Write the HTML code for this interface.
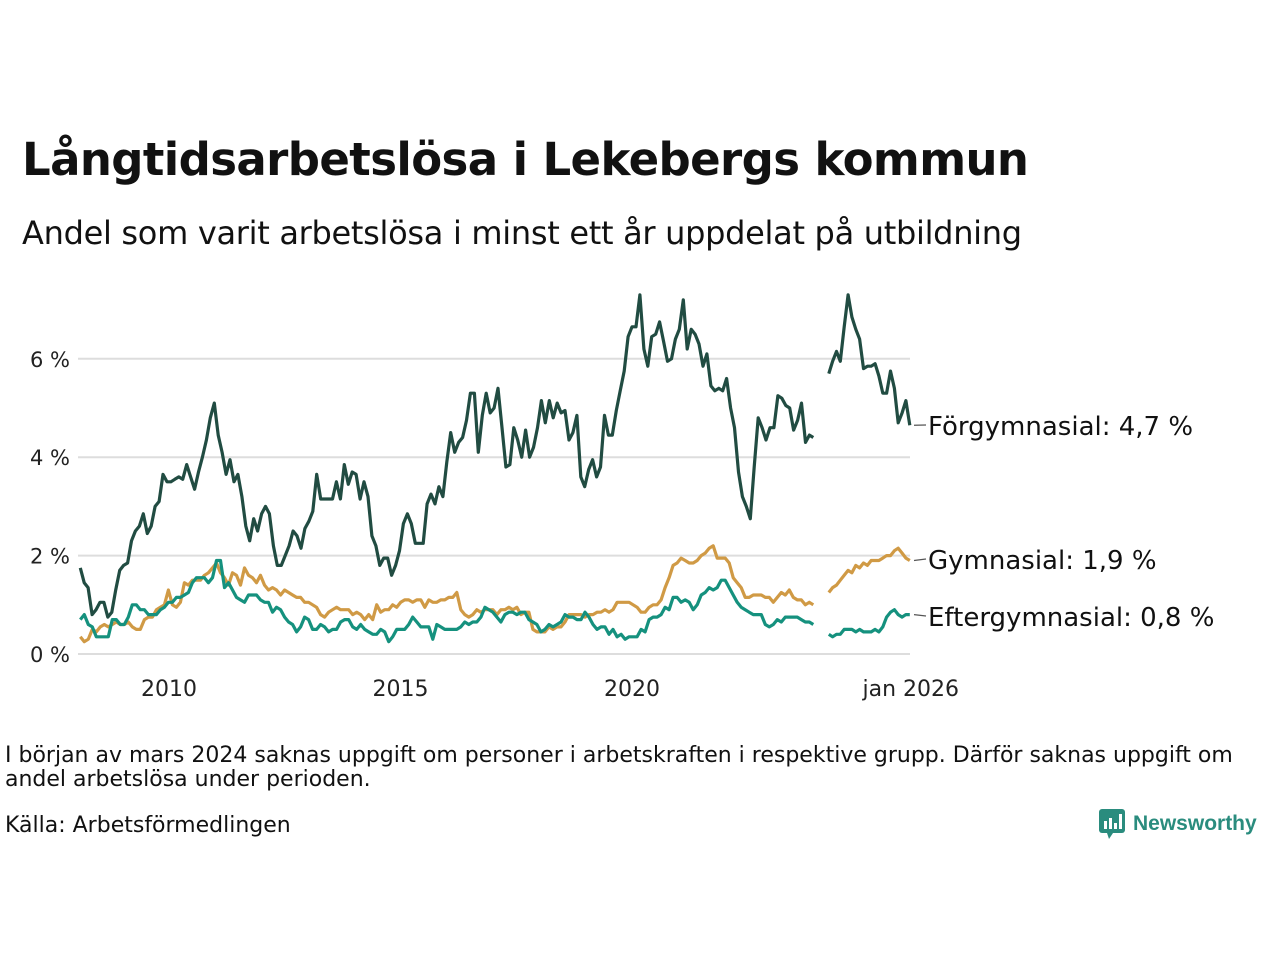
<!DOCTYPE html>
<html><head><meta charset="utf-8">
<style>
body{margin:0;background:#fff;font-family:"Liberation Sans","DejaVu Sans",sans-serif;}
#wrap{position:relative;width:1280px;height:960px;overflow:hidden}
.t{position:absolute;color:#111;white-space:nowrap}
</style></head><body>
<div id="wrap">
<div class="t" style="left:22px;top:133px;font-size:45px;font-weight:bold;font-family:'DejaVu Sans',sans-serif;letter-spacing:-0.6px">Långtidsarbetslösa i Lekebergs kommun</div>
<div class="t" style="left:22px;top:214px;font-size:32px;font-family:'DejaVu Sans',sans-serif;letter-spacing:-0.3px">Andel som varit arbetslösa i minst ett år uppdelat på utbildning</div>
<svg id="chart" width="1280" height="720" style="position:absolute;left:0;top:0" font-family="DejaVu Sans, sans-serif"></svg>
<div class="t" style="left:5px;top:744px;font-size:22px;line-height:24px;font-family:'DejaVu Sans',sans-serif;white-space:normal;width:1250px;letter-spacing:0">I början av mars 2024 saknas uppgift om personer i arbetskraften i respektive grupp. Därför saknas uppgift om andel arbetslösa under perioden.</div>
<div class="t" style="left:5px;top:813px;font-size:22px;font-family:'DejaVu Sans',sans-serif">Källa: Arbetsförmedlingen</div>
<div style="position:absolute;left:1099px;top:809px;display:flex;align-items:center">
<svg width="26" height="30"><rect x="0" y="0" width="26" height="24" rx="3" fill="#2a8c7e"/><polygon points="8,24 14,24 10,30" fill="#2a8c7e"/><rect x="5" y="12" width="3" height="8" fill="#fff"/><rect x="10" y="9" width="3" height="11" fill="#fff"/><rect x="15" y="14" width="3" height="6" fill="#fff"/><rect x="20" y="5" width="3" height="15" fill="#fff"/></svg>
<span style="color:#2a8c7e;font-size:21px;font-weight:bold;margin-left:8px;font-family:'Liberation Sans',sans-serif">Newsworthy</span></div>
</div>
<script>
const yTicks=[0,2,4,6];
const yTickLabels=["0 %","2 %","4 %","6 %"];
const xTicks=[2010,2015,2020,2026];
const xTickLabels=["2010","2015","2020","jan 2026"];
const seg1Start=2008+1/12;
const seg1End=2023+11/12;
const seg2End=2026;
const forg1=[1.75,1.45,1.35,0.8,0.9,1.05,1.05,0.75,0.85,1.3,1.7,1.8,1.85,2.3,2.5,2.6,2.85,2.45,2.6,3.0,3.1,3.65,3.5,3.5,3.55,3.6,3.55,3.85,3.6,3.35,3.7,4.0,4.35,4.8,5.1,4.45,4.1,3.65,3.95,3.5,3.65,3.2,2.6,2.3,2.75,2.5,2.85,3.0,2.85,2.2,1.8,1.8,2.0,2.2,2.5,2.4,2.15,2.55,2.7,2.9,3.65,3.15,3.15,3.15,3.15,3.5,3.15,3.85,3.45,3.7,3.65,3.15,3.5,3.2,2.4,2.2,1.8,1.95,1.95,1.6,1.8,2.1,2.65,2.85,2.65,2.25,2.25,2.25,3.05,3.25,3.05,3.4,3.2,3.9,4.5,4.1,4.3,4.4,4.75,5.3,5.3,4.1,4.85,5.3,4.9,5.0,5.4,4.6,3.8,3.85,4.6,4.35,4.0,4.55,4.0,4.2,4.6,5.15,4.7,5.15,4.8,5.1,4.9,4.95,4.35,4.5,4.85,3.6,3.4,3.75,3.95,3.6,3.8,4.85,4.45,4.45,4.95,5.35,5.75,6.45,6.65,6.65,7.3,6.2,5.85,6.45,6.5,6.75,6.35,5.95,6.0,6.4,6.6,7.2,6.2,6.6,6.5,6.3,5.85,6.1,5.45,5.35,5.4,5.35,5.6,5.0,4.6,3.7,3.2,3.0,2.75,3.8,4.8,4.6,4.35,4.6,4.6,5.25,5.2,5.05,5.0,4.55,4.75,5.1,4.3,4.45,4.4];
const forg2=[5.7,5.95,6.15,5.95,6.65,7.3,6.85,6.6,6.4,5.8,5.85,5.85,5.9,5.65,5.3,5.3,5.75,5.4,4.7,4.9,5.15,4.65];
const gym1=[0.35,0.25,0.3,0.5,0.45,0.55,0.6,0.55,0.6,0.65,0.6,0.6,0.65,0.55,0.5,0.5,0.7,0.75,0.75,0.9,0.95,1.0,1.3,1.0,0.95,1.05,1.45,1.4,1.5,1.5,1.5,1.6,1.65,1.75,1.85,1.65,1.55,1.4,1.65,1.6,1.4,1.75,1.6,1.55,1.45,1.6,1.4,1.3,1.35,1.3,1.2,1.3,1.25,1.2,1.15,1.15,1.05,1.05,1.0,0.95,0.8,0.75,0.85,0.9,0.95,0.9,0.9,0.9,0.8,0.85,0.8,0.7,0.8,0.7,1.0,0.85,0.9,0.9,1.0,0.95,1.05,1.1,1.1,1.05,1.1,1.1,0.95,1.1,1.05,1.05,1.1,1.1,1.15,1.15,1.25,0.9,0.8,0.75,0.8,0.9,0.85,0.9,0.9,0.9,0.8,0.9,0.9,0.95,0.9,0.95,0.8,0.85,0.85,0.5,0.45,0.45,0.45,0.55,0.5,0.55,0.55,0.65,0.8,0.8,0.8,0.8,0.75,0.8,0.8,0.85,0.85,0.9,0.85,0.9,1.05,1.05,1.05,1.05,1.0,0.95,0.85,0.85,0.95,1.0,1.0,1.1,1.35,1.55,1.8,1.85,1.95,1.9,1.85,1.85,1.9,2.0,2.05,2.15,2.2,1.95,1.95,1.95,1.85,1.55,1.45,1.35,1.15,1.15,1.2,1.2,1.2,1.15,1.15,1.05,1.15,1.25,1.2,1.3,1.15,1.1,1.1,1.0,1.05,1.0];
const gym2=[1.25,1.35,1.4,1.5,1.6,1.7,1.65,1.8,1.75,1.85,1.8,1.9,1.9,1.9,1.95,2.0,2.0,2.1,2.15,2.05,1.95,1.9];
const eft1=[0.7,0.8,0.6,0.55,0.35,0.35,0.35,0.35,0.7,0.7,0.6,0.6,0.75,1.0,1.0,0.9,0.9,0.8,0.8,0.8,0.9,0.95,1.05,1.05,1.15,1.15,1.2,1.25,1.45,1.55,1.55,1.55,1.45,1.55,1.9,1.9,1.35,1.45,1.3,1.15,1.1,1.05,1.2,1.2,1.2,1.1,1.05,1.05,0.85,0.95,0.9,0.75,0.65,0.6,0.45,0.55,0.75,0.7,0.5,0.5,0.6,0.55,0.45,0.5,0.5,0.65,0.7,0.7,0.55,0.5,0.6,0.5,0.45,0.4,0.4,0.5,0.45,0.25,0.35,0.5,0.5,0.5,0.6,0.75,0.65,0.55,0.55,0.55,0.3,0.6,0.55,0.5,0.5,0.5,0.5,0.55,0.65,0.6,0.65,0.65,0.75,0.95,0.9,0.85,0.75,0.65,0.8,0.85,0.85,0.8,0.85,0.85,0.7,0.65,0.6,0.45,0.5,0.6,0.55,0.6,0.65,0.8,0.75,0.75,0.7,0.7,0.85,0.75,0.6,0.5,0.55,0.55,0.4,0.5,0.35,0.4,0.3,0.35,0.35,0.35,0.5,0.45,0.7,0.75,0.75,0.8,0.95,0.9,1.15,1.15,1.05,1.1,1.05,0.9,1.0,1.2,1.25,1.35,1.3,1.35,1.5,1.5,1.35,1.2,1.05,0.95,0.9,0.85,0.8,0.8,0.8,0.6,0.55,0.6,0.7,0.65,0.75,0.75,0.75,0.75,0.7,0.65,0.65,0.6];
const eft2=[0.4,0.35,0.4,0.4,0.5,0.5,0.5,0.45,0.5,0.45,0.45,0.45,0.5,0.45,0.55,0.75,0.85,0.9,0.8,0.75,0.8,0.8];
const seriesNames=["Förgymnasial","Gymnasial","Eftergymnasial"];
const lastValues=["4,7 %","1,9 %","0,8 %"];

const X=t=>169+(t-2010)*46.3;
const Y=v=>654-v*49.2;
const NS="http://www.w3.org/2000/svg";
const svg=document.getElementById('chart');
function mk(tag,attrs){const e=document.createElementNS(NS,tag);for(const k in attrs)e.setAttribute(k,attrs[k]);svg.appendChild(e);return e;}
yTicks.forEach((v,i)=>{
 const l=mk('line',{x1:78,x2:910,y1:Y(v),y2:Y(v),stroke:'#ddd','stroke-width':2});
 
 
 const t=mk('text',{x:70,y:Y(v)+8,'text-anchor':'end','font-size':21,fill:'#222'});t.textContent=yTickLabels[i];
 
 
});
xTicks.forEach((v,i)=>{
 const t=mk('text',{x:X(v)+(i==3?1:0),y:696,'text-anchor':'middle','font-size':22,fill:'#222'});t.textContent=xTickLabels[i];
 
 
});
const cols=["#214c42","#d09a45","#15917e"];
const segs=[[forg1,forg2],[gym1,gym2],[eft1,eft2]];
segs.forEach((s,si)=>{
 const n1=s[0].length;
 const step=(seg1End-seg1Start)/(n1-1);
 const d1=s[0].map((v,i)=>(i?'L':'M')+X(seg1Start+i*step).toFixed(1)+' '+Y(v).toFixed(1)).join('');
 const n2=s[1].length;
 const d2=s[1].map((v,i)=>(i?'L':'M')+X(seg2End-(n2-1-i)/12).toFixed(1)+' '+Y(v).toFixed(1)).join('');
 const p=mk('path',{d:d1+d2,fill:'none',stroke:cols[si],'stroke-width':3.2,'stroke-linejoin':'round'});
 
 
});
const labelY=[426,560,617];
segs.forEach((s,si)=>{
 const last=s[1][s[1].length-1];
 const l=mk('line',{x1:914,x2:926,y1:Y(last),y2:labelY[si]-1,stroke:'#555','stroke-width':1.2});
 
 
 const t=mk('text',{x:928,y:labelY[si]+9,'font-size':26,fill:'#111'});t.textContent=seriesNames[si]+': '+lastValues[si];
 
 
});
</script>
</body></html>
